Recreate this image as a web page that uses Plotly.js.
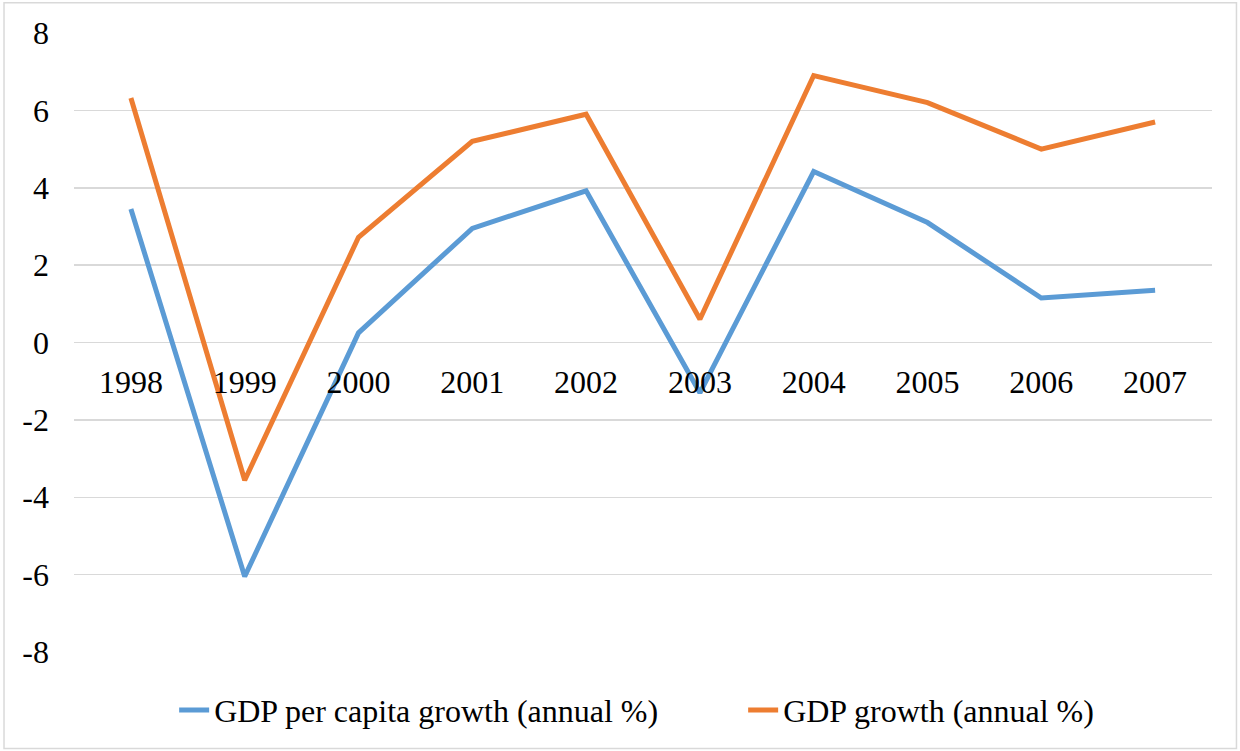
<!DOCTYPE html>
<html>
<head>
<meta charset="utf-8">
<script src="https://cdn.plot.ly/plotly-3.0.1.min.js"></script>
<style>
html,body{margin:0;padding:0;background:#fff;}
#chart{width:1240px;height:751px;}
</style>
</head>
<body>
<div id="chart"></div>
<script>
const years = ['1998','1999','2000','2001','2002','2003','2004','2005','2006','2007'];
const gdpPerCapitaGrowth = [3.45, -6.05, 0.25, 2.95, 3.92, -1.3, 4.42, 3.1, 1.15, 1.35];
const gdpGrowth = [6.32, -3.56, 2.72, 5.2, 5.9, 0.6, 6.9, 6.2, 5.0, 5.7];
const seriesNames = ['GDP per capita growth (annual %)', 'GDP growth (annual %)'];
const yTicks = [-8, -6, -4, -2, 0, 2, 4, 6, 8];

function mkFont() { return {family: 'Liberation Serif', size: 32, color: '#000000'}; }

const traces = [
  {x: years, y: gdpPerCapitaGrowth, name: seriesNames[0], type: 'scatter', mode: 'lines',
   line: {color: '#5B9BD5', width: 5, shape: 'linear'}, legendwidth: 524},
  {x: years, y: gdpGrowth, name: seriesNames[1], type: 'scatter', mode: 'lines',
   line: {color: '#ED7D31', width: 5, shape: 'linear'}, legendwidth: 340}
];

const layout = {
  width: 1240, height: 751,
  margin: {l: 74, r: 28, t: 33, b: 99},
  paper_bgcolor: '#ffffff', plot_bgcolor: '#ffffff',
  font: mkFont(),
  showlegend: true,
  xaxis: {
    type: 'category', range: [-0.5, 9.5],
    anchor: 'free', position: 0.5,
    showgrid: false, zeroline: false, showline: false,
    ticks: '', ticklabelstandoff: 17,
    tickfont: mkFont()
  },
  yaxis: {
    range: [-8, 8], tickvals: yTicks, ticktext: yTicks.map(String),
    showgrid: true, gridcolor: '#d9d9d9', gridwidth: 1.5,
    zeroline: true, zerolinecolor: '#d9d9d9', zerolinewidth: 1.5,
    showline: false, ticks: '', ticklabelstandoff: 24,
    tickfont: mkFont()
  },
  legend: {
    orientation: 'h', x: 0.088, xanchor: 'left', y: -0.094, yanchor: 'middle',
    font: mkFont(), bgcolor: 'rgba(0,0,0,0)'
  },
  shapes: [{
    type: 'rect', xref: 'paper', yref: 'paper',
    x0: -0.0615, x1: 1.0215, y0: -0.1559, y1: 1.0488,
    line: {color: '#d9d9d9', width: 1.5}, fillcolor: 'rgba(0,0,0,0)', layer: 'below'
  }]
};

Plotly.newPlot('chart', traces, layout, {staticPlot: true, displayModeBar: false});
</script>
</body>
</html>
